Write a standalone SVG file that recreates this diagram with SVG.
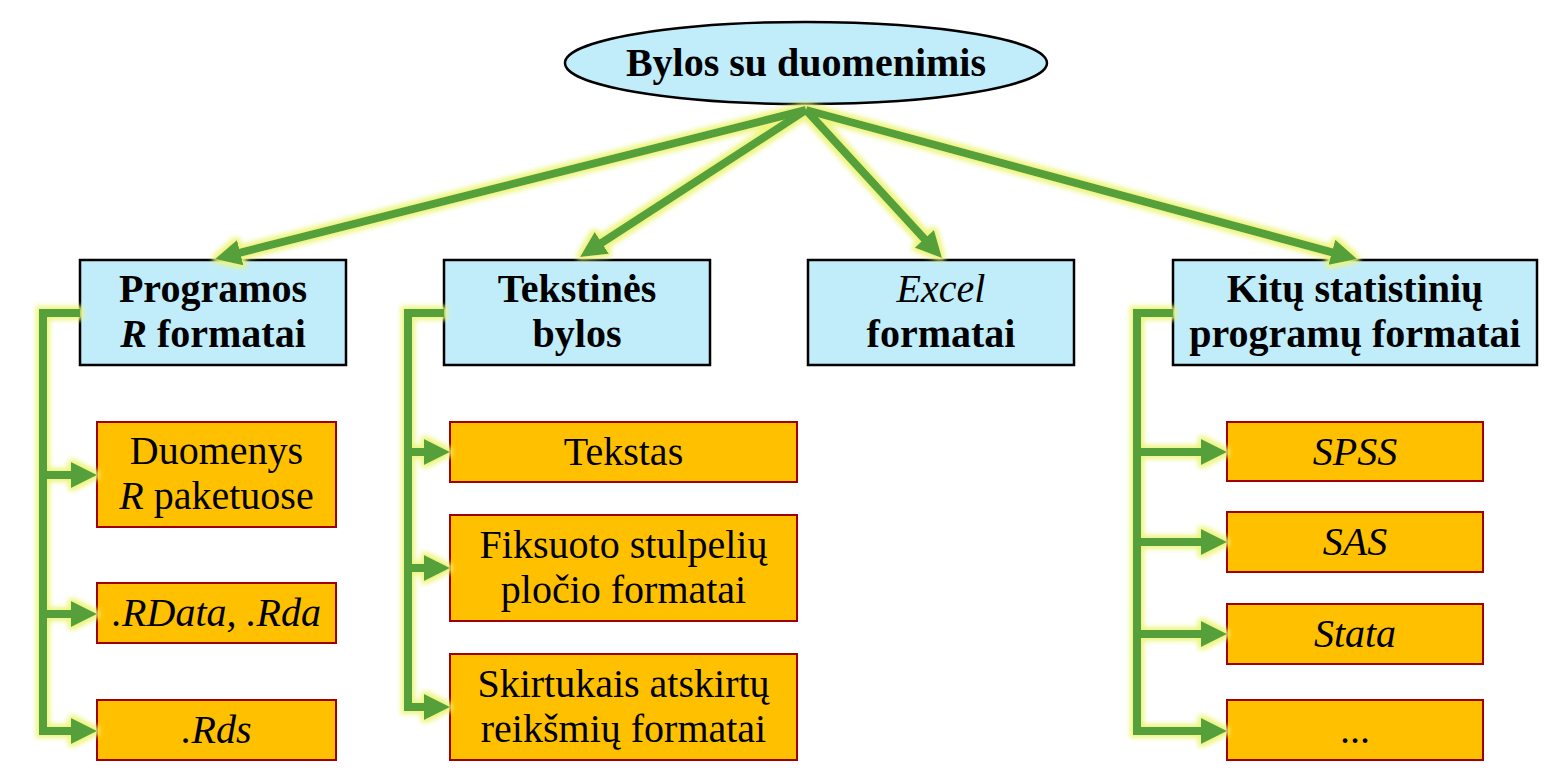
<svg xmlns="http://www.w3.org/2000/svg" width="1552" height="778" viewBox="0 0 1552 778">
<style>
.top{fill:#C1EDFB;stroke:#000;stroke-width:2.5}
.leaf{fill:#FFC000;stroke:#A00000;stroke-width:2}
text{font-family:"Liberation Serif","Times New Roman",serif;font-size:40px;fill:#000;text-anchor:middle}
.b{font-weight:bold}
.i{font-style:italic}
.con{fill:none;stroke:#55A03A;stroke-width:8;stroke-linejoin:miter;stroke-linecap:butt;marker-end:url(#ah)}
</style>
<defs>
<marker id="ah" markerUnits="userSpaceOnUse" markerWidth="26" markerHeight="26" refX="8" refY="13" orient="auto">
<path d="M0,0 L26,13 L0,26 Z" fill="#55A03A"/>
</marker>
<filter id="glow" x="-5%" y="-5%" width="110%" height="110%">
<feMorphology in="SourceAlpha" operator="dilate" radius="3" result="d"/>
<feGaussianBlur in="d" stdDeviation="2.8" result="bl"/>
<feFlood flood-color="#EDF57C"/>
<feComposite in2="bl" operator="in" result="g"/>
<feMerge><feMergeNode in="g"/><feMergeNode in="SourceGraphic"/></feMerge>
</filter>
</defs>

<g id="root">
<ellipse class="top" cx="806" cy="63" rx="241" ry="41"/>
<text class="b" x="806" y="76">Bylos su duomenimis</text>
</g>

<g id="n-r">
<rect class="top" x="80" y="260" width="266" height="105"/>
<text class="b" x="213" y="302">Programos</text>
<text class="b" x="213" y="347"><tspan class="i">R</tspan> formatai</text>
</g>
<g id="n-txt">
<rect class="top" x="444" y="260" width="266" height="105"/>
<text class="b" x="577" y="302">Tekstinės</text>
<text class="b" x="577" y="347">bylos</text>
</g>
<g id="n-excel">
<rect class="top" x="808" y="260" width="266" height="105"/>
<text class="i" x="941" y="302">Excel</text>
<text class="b" x="941" y="347">formatai</text>
</g>
<g id="n-other">
<rect class="top" x="1173" y="260" width="364" height="105"/>
<text class="b" x="1355" y="302">Kitų statistinių</text>
<text class="b" x="1355" y="347">programų formatai</text>
</g>

<g id="n-pkg">
<rect class="leaf" x="97" y="422" width="239" height="105"/>
<text x="216.5" y="464">Duomenys</text>
<text x="216.5" y="509"><tspan class="i">R</tspan> paketuose</text>
</g>
<g id="n-rdata">
<rect class="leaf" x="97" y="583" width="239" height="60"/>
<text class="i" x="216.5" y="626">.RData, .Rda</text>
</g>
<g id="n-rds">
<rect class="leaf" x="97" y="700" width="239" height="60"/>
<text class="i" x="216.5" y="743">.Rds</text>
</g>

<g id="n-tekstas">
<rect class="leaf" x="450" y="422" width="347" height="60"/>
<text x="623.5" y="465">Tekstas</text>
</g>
<g id="n-fix">
<rect class="leaf" x="450" y="515" width="347" height="106"/>
<text x="623.5" y="558">Fiksuoto stulpelių</text>
<text x="623.5" y="603">pločio formatai</text>
</g>
<g id="n-delim">
<rect class="leaf" x="450" y="654" width="347" height="106"/>
<text x="623.5" y="697">Skirtukais atskirtų</text>
<text x="623.5" y="742">reikšmių formatai</text>
</g>

<g id="n-spss">
<rect class="leaf" x="1227" y="422" width="256" height="59"/>
<text class="i" x="1355" y="465">SPSS</text>
</g>
<g id="n-sas">
<rect class="leaf" x="1227" y="512" width="256" height="60"/>
<text class="i" x="1355" y="555">SAS</text>
</g>
<g id="n-stata">
<rect class="leaf" x="1227" y="604" width="256" height="60"/>
<text class="i" x="1355" y="647">Stata</text>
</g>
<g id="n-more">
<rect class="leaf" x="1227" y="700" width="256" height="60"/>
<text x="1355" y="743">...</text>
</g>

<g id="connectors" filter="url(#glow)">
<path class="con" d="M806,110 L232.5,254.6"/>
<path class="con" d="M806,110 L595.1,247.2"/>
<path class="con" d="M806,110 L929.8,244.7"/>
<path class="con" d="M806,110 L1339.6,254.3"/>

<path class="con" d="M80,313 H43 V731 H79"/>
<path class="con" d="M43,475 H79"/>
<path class="con" d="M43,614 H79"/>

<path class="con" d="M444,313 H408 V707 H432"/>
<path class="con" d="M408,452 H432"/>
<path class="con" d="M408,568 H432"/>

<path class="con" d="M1173,313 H1137 V731 H1209"/>
<path class="con" d="M1137,452 H1209"/>
<path class="con" d="M1137,542 H1209"/>
<path class="con" d="M1137,634 H1209"/>
</g>
</svg>
